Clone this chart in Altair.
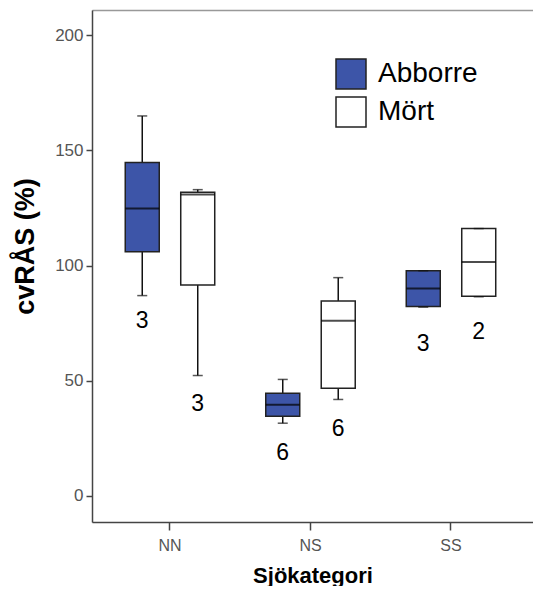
import altair as alt
import pandas as pd

categories = ["NN", "NN", "NS", "NS", "SS", "SS"]
species = ["Abborre", "Mört", "Abborre", "Mört", "Abborre", "Mört"]
whisker_low = [87, 52.3, 31.6, 41.9, 82, 86.5]
q1 = [106, 91.6, 34.6, 46.8, 82.3, 86.7]
median = [124.8, 130.9, 39.6, 76.1, 90.1, 101.6]
q3 = [144.8, 131.9, 44.6, 84.6, 97.8, 116.1]
whisker_high = [165, 133, 50.6, 94.8, 97.8, 116.1]
n_labels = ["3", "3", "6", "6", "3", "2"]
label_pos = [75.8, 40, 18.7, 29.1, 66.1, 71.4]

df = pd.DataFrame({
    "cat": categories, "species": species, "wlo": whisker_low, "q1": q1,
    "med": median, "q3": q3, "whi": whisker_high, "n": n_labels, "ly": label_pos,
})

FONT = "Liberation Sans"
CATS = ["NN", "NS", "SS"]
xscale = alt.Scale(paddingInner=0, paddingOuter=0.0694, align=0.397)
yscale = alt.Scale(domain=[-11.3, 211], nice=False, zero=False)
xoff = alt.XOffset("species:N", scale=alt.Scale(paddingInner=0, paddingOuter=0.266), sort=["Abborre", "Mört"])

xaxis = alt.Axis(title="Sjökategori", labelFont=FONT, labelFontSize=16, labelColor="#555",
                 labelAngle=0, labelPadding=7, tickSize=8, tickColor="#444", tickWidth=1.5,
                 domainColor="#444", domainWidth=1.5, titleFont=FONT, titleFontSize=22,
                 titleFontWeight="bold", titleColor="#000", titlePadding=12)
yaxis = alt.Axis(title="cvRÅS (%)", values=[0, 50, 100, 150, 200], grid=False,
                 labelFont=FONT, labelFontSize=17, labelColor="#555", labelPadding=3,
                 tickSize=6, tickColor="#444", tickWidth=1.5, domainColor="#444", domainWidth=1.5,
                 titleFont=FONT, titleFontSize=27, titleFontWeight="bold", titleColor="#000",
                 titleAngle=270, titleX=-67, titleY=236, titleAlign="center", titleBaseline="middle")
topaxis = alt.Axis(orient="top", labels=False, ticks=False, title=None,
                   domainColor="#999", domainWidth=1.5)

base = alt.Chart(df)

def X(axis):
    return alt.X("cat:N", scale=xscale, axis=axis, sort=CATS)

whisk = base.mark_rule(color="#111", strokeWidth=1.5).encode(
    x=X(xaxis), xOffset=xoff, y=alt.Y("wlo:Q", scale=yscale, axis=yaxis), y2="whi:Q")
box = base.mark_bar(size=34, stroke="#222", strokeWidth=1.5).encode(
    x=X(None), xOffset=xoff, y=alt.Y("q1:Q", scale=yscale), y2="q3:Q",
    fill=alt.Fill("species:N", scale=alt.Scale(domain=["Abborre", "Mört"], range=["#3d55a8", "#ffffff"]),
                  legend=alt.Legend(title=None, orient="none", legendX=243, legendY=48,
                                    symbolType="square", symbolSize=900, symbolStrokeColor="#222",
                                    symbolStrokeWidth=1.5, labelFont=FONT, labelFontSize=28,
                                    labelColor="#000", rowPadding=2, labelOffset=11, padding=0,
                                    labelLimit=300)))
med = base.mark_tick(size=34, thickness=2, color="#000").encode(
    x=X(None), xOffset=xoff, y=alt.Y("med:Q", scale=yscale))
cap_lo = base.mark_tick(size=10, thickness=1.5, color="#111").encode(
    x=X(None), xOffset=xoff, y=alt.Y("wlo:Q", scale=yscale))
cap_hi = base.mark_tick(size=10, thickness=1.5, color="#111").encode(
    x=X(None), xOffset=xoff, y=alt.Y("whi:Q", scale=yscale))
txt = base.mark_text(font=FONT, fontSize=23, color="#000", baseline="middle").encode(
    x=X(topaxis), xOffset=xoff, y=alt.Y("ly:Q", scale=yscale), text="n:N")

chart = alt.layer(whisk, box, med, cap_lo, cap_hi, txt).resolve_axis(x="independent").properties(
    width=441, height=512,
    autosize=alt.AutoSizeParams(type="none"),
    padding={"left": 84, "top": 2, "right": 0, "bottom": 64},
).configure_view(stroke=None).configure(background="#ffffff")

chart.save("out.html", embed_options={"renderer": "svg", "actions": False})
